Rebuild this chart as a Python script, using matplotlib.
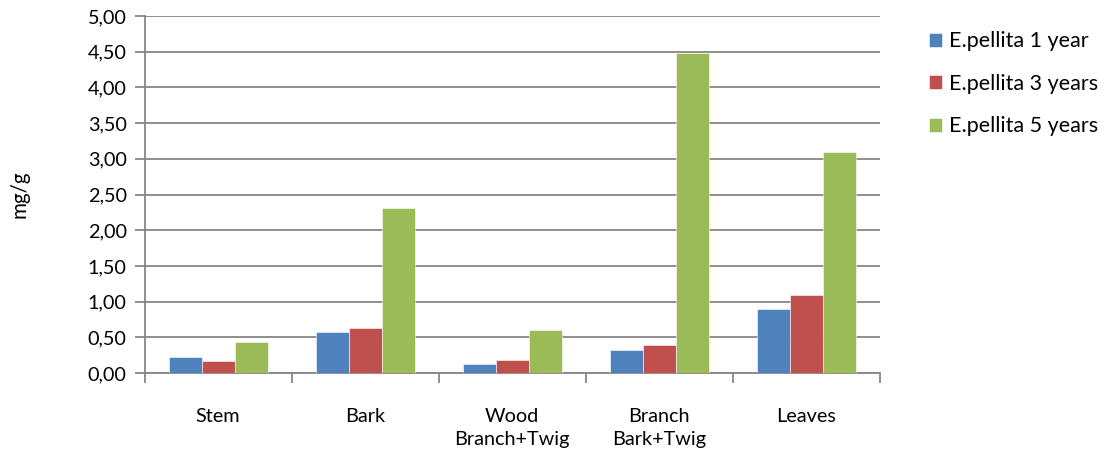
import matplotlib
matplotlib.use("Agg")
import matplotlib.pyplot as plt
import numpy as np

plt.rcParams['font.family'] = ['Lato', 'DejaVu Sans']

categories = ["Stem", "Bark", "Wood\nBranch+Twig", "Branch\nBark+Twig", "Leaves"]
series_names = ["E.pellita 1 year", "E.pellita 3 years", "E.pellita 5 years"]
year1 = [0.23, 0.57, 0.13, 0.33, 0.90]
year3 = [0.17, 0.63, 0.19, 0.40, 1.10]
year5 = [0.43, 2.31, 0.60, 4.48, 3.10]
yticks = np.arange(0, 5.01, 0.5)

colors = ["#4F81BD", "#C0504D", "#9BBB59"]
grey = "#868686"

fig = plt.figure(figsize=(11.04, 4.54), dpi=100)
ax = fig.add_axes([0.131, 0.178, 0.666, 0.787])

x = np.arange(len(categories))
w = 0.225
for i, (vals, c, name) in enumerate(zip([year1, year3, year5], colors, series_names)):
    ax.bar(x + (i - 1) * w, vals, w, color=c, label=name, zorder=3,
           edgecolor="white", linewidth=0.4)

ax.set_xlim(-0.5, len(categories) - 0.5)
ax.set_ylim(0, 5.0)
ax.set_yticks(yticks)
ax.set_yticklabels([f"{v:.2f}".replace(".", ",") for v in yticks], fontsize=14.3)
ax.yaxis.grid(True, color=grey, linewidth=1.3, zorder=0)

# category labels between boundary ticks
ax.set_xticks(np.arange(-0.5, len(categories), 1.0))
ax.set_xticklabels([])
ax.set_xticks(x, minor=True)
ax.set_xticklabels(categories, minor=True, fontsize=14.3, linespacing=1.45)
ax.tick_params(axis="x", which="minor", length=0, pad=25)
ax.tick_params(axis="x", which="major", length=7, color=grey, width=1.3)
ax.tick_params(axis="y", length=7, color=grey, width=1.3, pad=6)

for s in ["top", "right"]:
    ax.spines[s].set_visible(False)
for s in ["left", "bottom"]:
    ax.spines[s].set_color(grey)
    ax.spines[s].set_linewidth(1.3)

ax.set_ylabel("mg/g", fontsize=14.8, labelpad=42)

ax.legend(loc="upper left", bbox_to_anchor=(1.067, 0.957), frameon=False,
          fontsize=15.5, handlelength=0.62, handleheight=0.62, handletextpad=0.3,
          labelspacing=1.05, borderpad=0, borderaxespad=0)

fig.savefig("out.png", dpi=100)
